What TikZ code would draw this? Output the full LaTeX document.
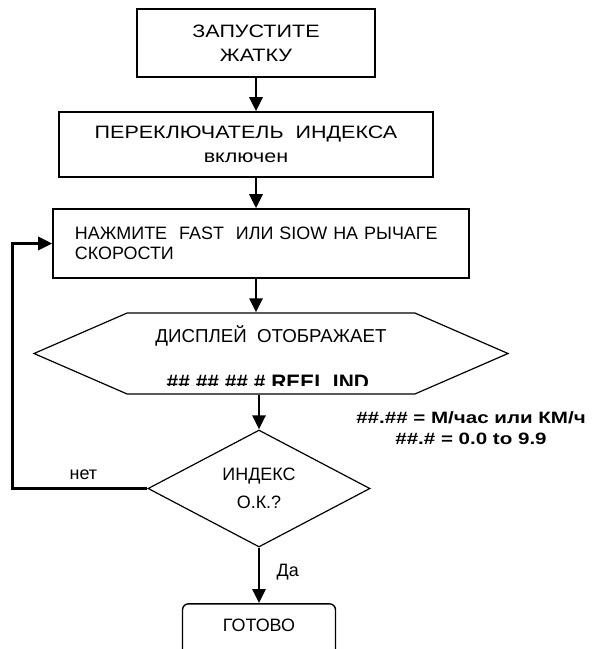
\documentclass[tikz,border=0pt]{standalone}
\usepackage{fontspec}
\setmainfont{Liberation Sans}
\newfontfamily\widefont[FakeStretch=1.2]{Liberation Sans}
\newfontfamily\notefont[FakeStretch=1.25]{Liberation Sans}
\usepackage{tikz}
\usetikzlibrary{arrows.meta, positioning, shapes.geometric, shapes.symbols, calc}

\begin{document}
\begin{tikzpicture}[
  x=1bp, y=1bp,
  node distance=34bp,
  box/.style={rectangle, draw, line width=1.6bp, align=center,
              font=\widefont\fontsize{18}{24}\selectfont},
  arrow/.style={-{Triangle[length=14bp, width=13bp]}, line width=2.8bp},
  lbl/.style={font=\fontsize{18}{22}\selectfont}
]
  \useasboundingbox (0,0) rectangle (594,-649);
  % колонка блоков
  \node[box, minimum width=238bp, minimum height=68bp] (start) at (256,-43)
       {ЗАПУСТИТЕ\\ЖАТКУ};
  \node[box, minimum width=374bp, minimum height=65bp, below=33.4bp of start, xshift=-10bp]
       (index) {ПЕРЕКЛЮЧАТЕЛЬ\ \ ИНДЕКСА\hspace{28bp}\\включен};
  \node[box, text width=372bp, inner xsep=22bp, minimum height=69bp, align=left,
        font=\fontsize{18}{20.5}\selectfont, below=30.4bp of index, xshift=15bp]
       (press) {НАЖМИТЕ\ \ FAST\ \ ИЛИ SIOW НА РЫЧАГЕ\\СКОРОСТИ};
  \node[signal, signal to=west and east, signal pointer angle=47, draw, line width=1.2bp,
        minimum width=474bp, minimum height=81bp, below=33.6bp of press, xshift=10bp]
       (disp) {};
  \node[font=\fontsize{18.8}{22}\selectfont, anchor=base] (disptxt)
       at ([yshift=11bp]disp.center) {ДИСПЛЕЙ\ \ ОТОБРАЖАЕТ};
  \begin{scope}
    \clip ([yshift=-32bp]disp.west) rectangle (disp.north -| disp.east);
    \node[anchor=base west, inner sep=0pt, font=\bfseries\fontsize{21}{24}\selectfont] (reel)
         at ([xshift=134bp, yshift=-36bp]disp.west) {\#\#.\#\# \#\#.\# REEL IND};
  \end{scope}
  \node[diamond, draw, line width=1.2bp, aspect=1.9, minimum width=222bp, minimum height=117bp,
        align=center, font=\fontsize{18}{28}\selectfont, below=34.8bp of disp, xshift=-12bp]
       (check) {ИНДЕКС\\О.К.?};
  \node[rectangle, rounded corners=6bp, draw, line width=1.4bp, minimum width=153bp,
        minimum height=66bp, text depth=23bp, font=\fontsize{18}{22}\selectfont,
        below=55.5bp of check] (done) {ГОТОВО};
  % примечание
  \node[align=center, font=\notefont\bfseries\fontsize{16.5}{21}\selectfont] (units) at (471,-428)
       {\#\#.\#\# = М/час или КМ/ч\\\#\#.\# = 0.0 to 9.9};
  % стрелки
  \draw[arrow] (start.south) -- (start.south |- index.north);
  \draw[arrow] (index.south -| start) -- (press.north -| start);
  \draw[arrow] (press.south -| start) -- (disp.north -| start);
  \draw[arrow] (disp.south -| check) -- (check.north);
  \draw[arrow] (check.south) -- node[lbl, right=13bp, yshift=3bp] (yes) {Да} (done.north);
  \draw[arrow] (check.west) -| ([xshift=-40bp]press.west) -- (press.west);
  \node[lbl, above=5bp] (no) at ($(check.west)+(-64bp,0)$) {нет};
\end{tikzpicture}
\end{document}
